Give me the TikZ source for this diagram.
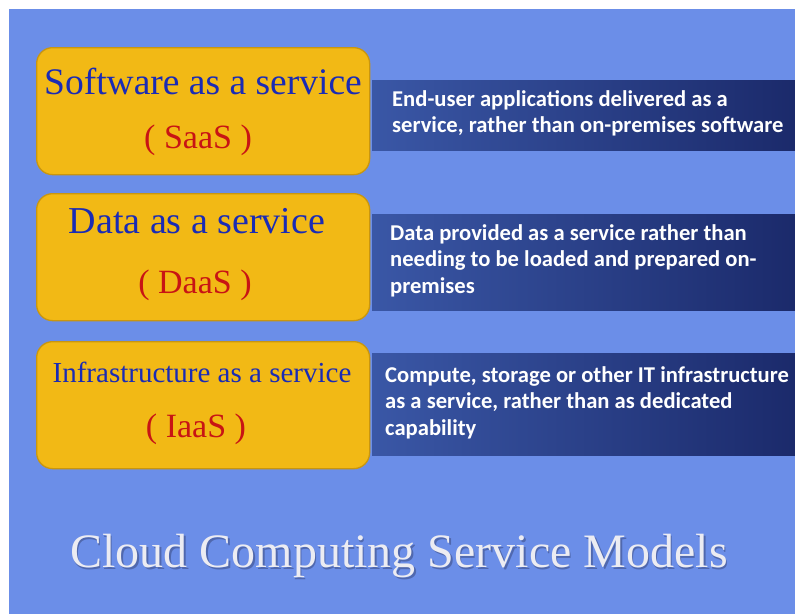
\documentclass[tikz,border=0pt]{standalone}
\usepackage{fontspec}
\setmainfont{Liberation Serif}
\newfontfamily\descfont{Carlito}
\definecolor{bg}{HTML}{6B8EE8}
\definecolor{gold}{HTML}{F2B915}
\definecolor{goldline}{HTML}{C9960F}
\definecolor{titleblue}{HTML}{1A2BB5}
\definecolor{subred}{HTML}{C81414}
\definecolor{darkL}{HTML}{3A57A6}
\definecolor{darkM}{HTML}{4060B2}
\definecolor{darkR}{HTML}{1B2A6B}
\definecolor{headgrey}{HTML}{ECECF2}
\definecolor{headshadow}{HTML}{3A4A80}
\tikzset{
  ybox/.style={draw=goldline, line width=1.3pt, fill=gold, rounded corners=16pt,
    minimum width=333pt, anchor=north west, inner sep=0pt},
  dbox/.style={left color=darkL, middle color=darkM, right color=darkR, draw=none,
    minimum width=423pt, anchor=north west, inner sep=0pt},
  ytitle/.style={text=titleblue, anchor=base, inner sep=0pt},
  ysub/.style={text=subred, anchor=base, inner sep=0pt, font=\fontsize{34}{38}\selectfont},
  dtext/.style={text=white, anchor=north west, align=left, inner sep=0pt,
    font=\descfont\bfseries\fontsize{22.6}{26.8}\selectfont},
}
\begin{document}
\begin{tikzpicture}[x=1pt,y=-1pt]
\useasboundingbox (0,0) rectangle (795,614);
\fill[white] (0,0) rectangle (795,614);
\fill[bg] (9,9) rectangle (795,614);

% description bands
\node[dbox, minimum height=70pt] (d1) at (372,80) {};
\node[dbox, minimum height=96pt] (d2) at (372,214) {};
\node[dbox, minimum height=102pt] (d3) at (372,353) {};

% yellow boxes
\node[ybox, minimum height=127pt] (b1) at (36,47) {};
\node[ybox, minimum height=127pt] (b2) at (36,193) {};
\node[ybox, minimum height=127pt] (b3) at (36,341) {};

% box texts
\node[ytitle, font=\fontsize{37.5}{40}\selectfont] (t1) at (203,94) {Software as a service};
\node[ysub] (s1) at (198,148) {( SaaS )};
\node[ytitle, font=\fontsize{38}{40}\selectfont] (t2) at (197,233) {Data as a service};
\node[ysub] (s2) at (195,293) {( DaaS )};
\node[ytitle, font=\fontsize{29}{32}\selectfont] (t3) at (202,382) {Infrastructure as a service};
\node[ysub] (s3) at (196,437) {( IaaS )};

% descriptions
\node[dtext] (x1) at (392,90) {End-user applications delivered as a\\service, rather than on-premises software};
\node[dtext] (x2) at (390,224) {Data provided as a service rather than\\needing to be loaded and prepared on-\\premises};
\node[dtext] (x3) at (385,366) {Compute, storage or other IT infrastructure\\as a service, rather than as dedicated\\capability};

% heading
\node[text=headshadow, anchor=base, inner sep=0pt, font=\fontsize{48}{52}\selectfont, opacity=0.55] (hs) at (400.5,569.5) {Cloud Computing Service Models};
\node[text=headgrey, anchor=base, inner sep=0pt, font=\fontsize{48}{52}\selectfont] (h) at (399,567) {Cloud Computing Service Models};
\end{tikzpicture}
\end{document}
